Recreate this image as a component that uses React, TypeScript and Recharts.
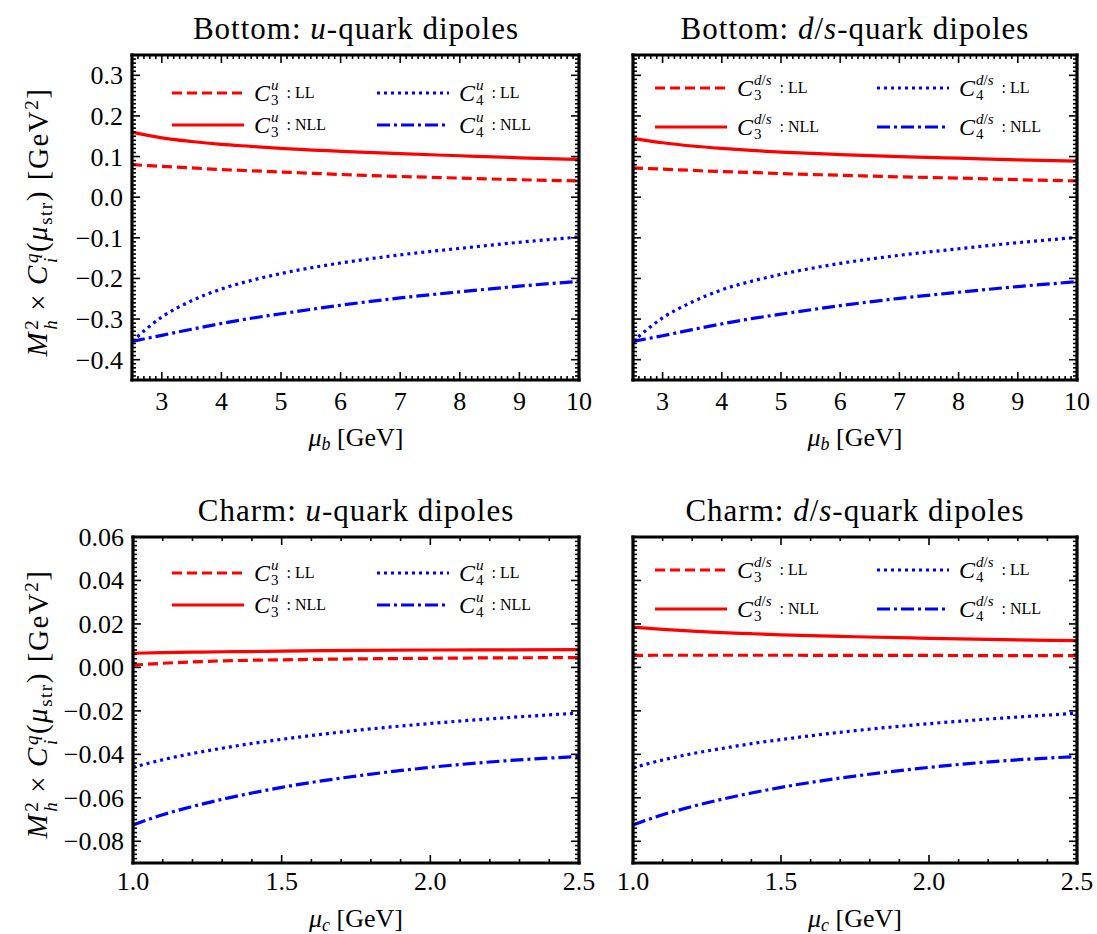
import React from 'react';
import { LineChart, Line, XAxis, YAxis } from 'recharts';

// scale values in GeV
const bottomMu = [2.5, 3, 3.5, 4, 4.5, 5, 6, 7, 8, 9, 10];
const charmMu = [1.0, 1.1, 1.2, 1.3, 1.4, 1.5, 1.75, 2.0, 2.25, 2.5];

// Bottom: u-quark dipoles
const bU_C3LL = [0.08, 0.076, 0.072, 0.068, 0.065, 0.062, 0.056, 0.051, 0.047, 0.043, 0.04];
const bU_C3NLL = [0.16, 0.146, 0.137, 0.13, 0.125, 0.12, 0.113, 0.107, 0.102, 0.097, 0.093];
const bU_C4LL = [-0.355, -0.295, -0.255, -0.226, -0.205, -0.188, -0.162, -0.142, -0.126, -0.111, -0.098];
const bU_C4NLL = [-0.355, -0.34, -0.325, -0.311, -0.298, -0.287, -0.266, -0.248, -0.233, -0.219, -0.207];

// Bottom: d/s-quark dipoles
const bD_C3LL = [0.072, 0.069, 0.066, 0.063, 0.061, 0.058, 0.054, 0.05, 0.047, 0.043, 0.04];
const bD_C3NLL = [0.145, 0.134, 0.126, 0.12, 0.115, 0.111, 0.105, 0.1, 0.096, 0.092, 0.089];
const bD_C4LL = [-0.355, -0.297, -0.258, -0.228, -0.207, -0.19, -0.163, -0.143, -0.127, -0.112, -0.099];
const bD_C4NLL = [-0.355, -0.341, -0.326, -0.312, -0.299, -0.288, -0.267, -0.249, -0.234, -0.22, -0.208];

// Charm: u-quark dipoles
const cU_C3LL = [0.001, 0.0019, 0.0025, 0.003, 0.0033, 0.0035, 0.0039, 0.0042, 0.0044, 0.0045];
const cU_C3NLL = [0.0065, 0.0068, 0.007, 0.0072, 0.0073, 0.0075, 0.0078, 0.008, 0.0081, 0.0082];
const cU_C4LL = [-0.046, -0.0425, -0.0396, -0.0372, -0.035, -0.0331, -0.029, -0.0258, -0.0232, -0.021];
const cU_C4NLL = [-0.0725, -0.0678, -0.064, -0.0607, -0.0578, -0.0552, -0.05, -0.046, -0.043, -0.041];

// Charm: d/s-quark dipoles
const cD_C3LL = [0.0055, 0.0056, 0.0056, 0.0056, 0.0056, 0.0056, 0.0055, 0.0055, 0.0054, 0.0054];
const cD_C3NLL = [0.0185, 0.0175, 0.0167, 0.016, 0.0155, 0.015, 0.0141, 0.0134, 0.0128, 0.0123];
const cD_C4LL = [-0.0462, -0.0426, -0.0397, -0.0373, -0.0351, -0.0332, -0.0291, -0.0259, -0.0233, -0.0211];
const cD_C4NLL = [-0.0725, -0.0678, -0.064, -0.0607, -0.0578, -0.0552, -0.05, -0.046, -0.043, -0.041];

// tick labels
const bottomXTicks = [3, 4, 5, 6, 7, 8, 9, 10];
const bottomYTicks = [0.3, 0.2, 0.1, 0, -0.1, -0.2, -0.3, -0.4];
const charmXTicks = [1.0, 1.5, 2.0, 2.5];
const charmYTicks = [0.06, 0.04, 0.02, 0, -0.02, -0.04, -0.06, -0.08];

const SERIF = '"Liberation Serif", "DejaVu Serif", serif';
const RED = '#ff0000';
const BLUE = '#0000ff';

const series = [
  { key: 'c3ll', color: RED, dash: '10 5', c: '3', tag: 'LL' },
  { key: 'c4ll', color: BLUE, dash: '3 4', c: '4', tag: 'LL' },
  { key: 'c3nll', color: RED, dash: undefined, c: '3', tag: 'NLL' },
  { key: 'c4nll', color: BLUE, dash: '13 4 3 4', c: '4', tag: 'NLL' },
];

const rows = (mu: number[], a: number[], b: number[], c: number[], d: number[]) =>
  mu.map((m, i) => ({ mu: m, c3ll: a[i], c3nll: b[i], c4ll: c[i], c4nll: d[i] }));

const steps = (lo: number, hi: number, st: number) => {
  const n = Math.round((hi - lo) / st);
  return Array.from({ length: n + 1 }, (_, i) => +(lo + i * st).toFixed(6));
};

const minus = (s: string) => s.replace('-', '\u2212');

const makeTick = (side: string, majors: number[], fmt?: (v: number) => string, off = 28) => (props: any) => {
  const { x, y, payload } = props;
  const v = payload.value;
  const major = majors.some((m) => Math.abs(m - v) < 1e-9);
  const len = major ? 8 : 4;
  let x2 = x;
  let y2 = y;
  if (side === 'bottom') y2 = y - len;
  if (side === 'top') y2 = y + len;
  if (side === 'left') x2 = x + len;
  if (side === 'right') x2 = x - len;
  return (
    <g>
      <line x1={x} y1={y} x2={x2} y2={y2} stroke="#000" strokeWidth={1.6} />
      {fmt && major && side === 'bottom' && (
        <text x={x} y={y + off} textAnchor="middle" fontFamily={SERIF} fontSize={26} fill="#000">
          {fmt(v)}
        </text>
      )}
      {fmt && major && side === 'left' && (
        <text x={x - 9} y={y + 9} textAnchor="end" fontFamily={SERIF} fontSize={26} fill="#000">
          {fmt(v)}
        </text>
      )}
    </g>
  );
};

const Stack = ({ sup, sub, fs }: any) => (
  <span
    style={{
      display: 'inline-flex',
      flexDirection: 'column',
      alignItems: 'flex-start',
      fontSize: fs,
      lineHeight: 1,
      marginLeft: 1,
      verticalAlign: 'middle',
    }}
  >
    <span>{sup}</span>
    <span>{sub}</span>
  </span>
);

const frame = { stroke: '#000', strokeWidth: 3.2, strokeLinecap: 'square' };

function Panel(p: any) {
  const xMinor = steps(p.xDomain[0], p.xDomain[1], p.xStep);
  const yMinor = steps(p.yDomain[0], p.yDomain[1], p.yStep);
  // axes are 1px thick, so plot area = margin + 1
  const m = p.margin;
  const margin = { top: m.top - 1, right: m.right - 1, bottom: m.bottom - 1, left: m.left - 1 };
  return (
    <div style={{ position: 'absolute', left: p.left, top: p.top }}>
      <LineChart width={p.width} height={p.height} data={p.data} margin={margin}>
        <XAxis
          xAxisId="b"
          type="number"
          dataKey="mu"
          domain={p.xDomain}
          ticks={xMinor}
          interval={0}
          height={1}
          tickSize={0}
          tickMargin={0}
          tickLine={false}
          axisLine={frame}
          allowDataOverflow
          tick={makeTick('bottom', p.xTicks, p.xFmt, p.xOff)}
        />
        <XAxis
          xAxisId="t"
          orientation="top"
          type="number"
          dataKey="mu"
          domain={p.xDomain}
          ticks={xMinor}
          interval={0}
          height={1}
          tickSize={0}
          tickMargin={0}
          tickLine={false}
          axisLine={frame}
          allowDataOverflow
          tick={makeTick('top', p.xTicks)}
        />
        <YAxis
          yAxisId="l"
          type="number"
          domain={p.yDomain}
          ticks={yMinor}
          interval={0}
          width={1}
          tickSize={0}
          tickMargin={0}
          tickLine={false}
          axisLine={frame}
          allowDataOverflow
          tick={makeTick('left', p.yTicks, p.yFmt)}
        />
        <YAxis
          yAxisId="r"
          orientation="right"
          type="number"
          domain={p.yDomain}
          ticks={yMinor}
          interval={0}
          width={1}
          tickSize={0}
          tickMargin={0}
          tickLine={false}
          axisLine={frame}
          allowDataOverflow
          tick={makeTick('right', p.yTicks)}
        />
        {series.map((s) => (
          <Line
            key={s.key}
            xAxisId="b"
            yAxisId="l"
            type="monotone"
            dataKey={s.key}
            stroke={s.color}
            strokeWidth={3.2}
            strokeDasharray={s.dash}
            dot={false}
            activeDot={false}
            isAnimationActive={false}
          />
        ))}
      </LineChart>
    </div>
  );
}

function LegendItem({ x, y, s, q, textX }: any) {
  return (
    <>
      <svg style={{ position: 'absolute', left: x, top: y - 5 }} width={72} height={10}>
        <line x1={0} y1={5} x2={72} y2={5} stroke={s.color} strokeWidth={3.2} strokeDasharray={s.dash} />
      </svg>
      <div
        style={{
          position: 'absolute',
          left: textX,
          top: y,
          transform: 'translateY(-50%)',
          display: 'flex',
          alignItems: 'center',
          fontFamily: SERIF,
          whiteSpace: 'nowrap',
        }}
      >
        <i style={{ fontSize: 24 }}>C</i>
        <Stack sup={q} sub={s.c} fs={15} />
        <span style={{ fontSize: 16, marginLeft: 8 }}>: {s.tag}</span>
      </div>
    </>
  );
}

function Legend({ x1, x2, y1, y2, q }: any) {
  const pos = [
    [x1, y1],
    [x2, y1],
    [x1, y2],
    [x2, y2],
  ];
  return (
    <>
      {series.map((s, i) => (
        <LegendItem key={s.key} x={pos[i][0]} y={pos[i][1]} textX={pos[i][0] + 82} s={s} q={q} />
      ))}
    </>
  );
}

const textAbs = (left: number, top: number, extra: any = {}) => ({
  position: 'absolute' as const,
  left,
  top,
  transform: 'translate(-50%, -50%)',
  whiteSpace: 'nowrap' as const,
  fontFamily: SERIF,
  color: '#000',
  ...extra,
});

const YLabel = ({ top }: any) => (
  <div
    style={textAbs(40, top, {
      transform: 'translate(-50%, -50%) rotate(-90deg)',
      fontSize: 29,
      letterSpacing: 1.5,
    })}
  >
    <i>M</i>
    <Stack sup="2" sub={<i>h</i>} fs={19} />
    <span style={{ margin: '0 8px' }}>×</span>
    <i>C</i>
    <Stack sup={<i>q</i>} sub={<i>i</i>} fs={19} />
    <span>(</span>
    <i>μ</i>
    <span style={{ fontSize: 19, verticalAlign: '-0.25em' }}>str</span>
    <span>)</span>
    <span style={{ marginLeft: 10 }}>[GeV</span>
    <span style={{ fontSize: 19, verticalAlign: '0.5em' }}>2</span>
    <span>]</span>
  </div>
);

const qU = <i>u</i>;
const qDS = (
  <span>
    <i>d</i>/<i>s</i>
  </span>
);

const fmtInt = (v: number) => String(v);
const fmt1 = (v: number) => minus(v.toFixed(1));
const fmt2 = (v: number) => minus(v.toFixed(2));

const titleStyle = { fontSize: 31, letterSpacing: 1 };

const XLabel = ({ x, y, sub }: any) => (
  <div style={textAbs(x, y, { fontSize: 26 })}>
    <i>μ</i>
    <span style={{ fontSize: 18, verticalAlign: '-0.25em' }}>
      <i>{sub}</i>
    </span>{' '}
    [GeV]
  </div>
);

export default function App() {
  const topCommon = {
    top: 0,
    width: 600,
    height: 460,
    xDomain: [2.5, 10],
    yDomain: [-0.45, 0.35],
    xStep: 0.1,
    yStep: 0.01,
    xTicks: bottomXTicks,
    yTicks: bottomYTicks,
    xFmt: fmtInt,
    xOff: 30,
  };
  const botCommon = {
    top: 460,
    width: 600,
    height: 474,
    xDomain: [1.0, 2.5],
    yDomain: [-0.09, 0.06],
    xStep: 0.1,
    yStep: 0.002,
    xTicks: charmXTicks,
    yTicks: charmYTicks,
    xFmt: fmt1,
    xOff: 27,
  };
  return (
    <div style={{ position: 'absolute', left: 0, top: 0, width: 1097, height: 934, background: '#fff' }}>
      <Panel
        {...topCommon}
        left={0}
        margin={{ top: 55, right: 21, bottom: 80, left: 132 }}
        data={rows(bottomMu, bU_C3LL, bU_C3NLL, bU_C4LL, bU_C4NLL)}
        yFmt={fmt1}
      />
      <Panel
        {...topCommon}
        left={500}
        width={597}
        margin={{ top: 55, right: 20, bottom: 80, left: 133 }}
        data={rows(bottomMu, bD_C3LL, bD_C3NLL, bD_C4LL, bD_C4NLL)}
      />
      <Panel
        {...botCommon}
        left={0}
        margin={{ top: 77, right: 21, bottom: 71, left: 133 }}
        data={rows(charmMu, cU_C3LL, cU_C3NLL, cU_C4LL, cU_C4NLL)}
        yFmt={fmt2}
      />
      <Panel
        {...botCommon}
        left={500}
        width={597}
        margin={{ top: 77, right: 20, bottom: 71, left: 133 }}
        data={rows(charmMu, cD_C3LL, cD_C3NLL, cD_C4LL, cD_C4NLL)}
      />

      <div style={textAbs(356, 29, titleStyle)}>
        Bottom: <i>u</i>-quark dipoles
      </div>
      <div style={textAbs(855, 29, titleStyle)}>
        Bottom: <i>d</i>/<i>s</i>-quark dipoles
      </div>
      <div style={textAbs(356, 511, titleStyle)}>
        Charm: <i>u</i>-quark dipoles
      </div>
      <div style={textAbs(855, 511, titleStyle)}>
        Charm: <i>d</i>/<i>s</i>-quark dipoles
      </div>

      <XLabel x={356} y={439} sub="b" />
      <XLabel x={855} y={439} sub="b" />
      <XLabel x={356} y={920} sub="c" />
      <XLabel x={855} y={920} sub="c" />

      <YLabel top={222} />
      <YLabel top={704} />

      <Legend x1={172} x2={377} y1={93} y2={125} q={qU} />
      <Legend x1={655} x2={877} y1={88} y2={127} q={qDS} />
      <Legend x1={172} x2={377} y1={573} y2={605} q={qU} />
      <Legend x1={655} x2={877} y1={570} y2={609} q={qDS} />
    </div>
  );
}
